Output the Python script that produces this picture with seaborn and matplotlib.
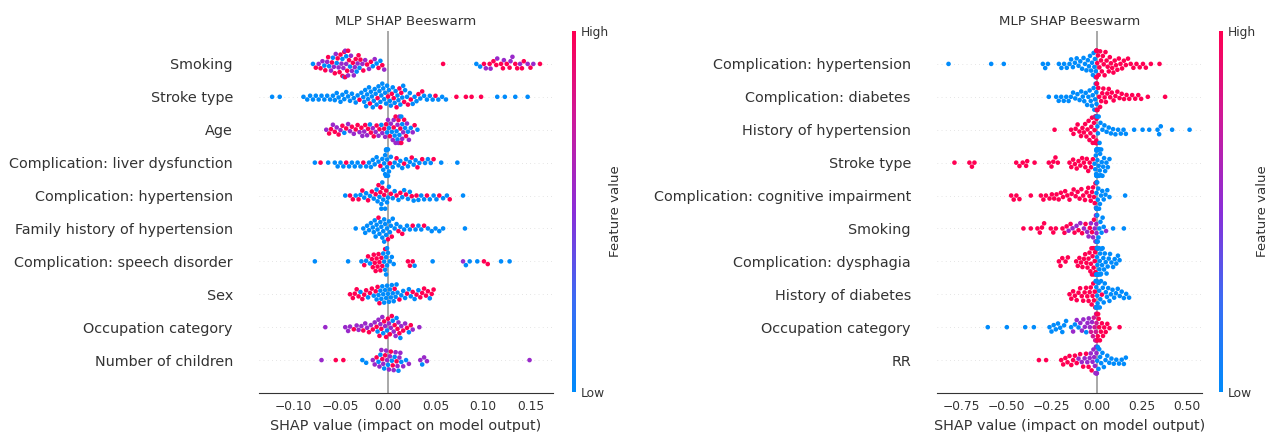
import warnings
warnings.filterwarnings("ignore")
import numpy as np
import pandas as pd
import matplotlib
matplotlib.use("Agg")
import matplotlib.pyplot as plt
import seaborn as sns
from matplotlib.colors import LinearSegmentedColormap, Normalize
from matplotlib.cm import ScalarMappable

# ---------------- data (SHAP values in thousandths; feature value digits 0=low .. 9=high) ----------------
LEFT_FEATURES = ["Smoking", "Stroke type", "Age", "Complication: liver dysfunction",
                 "Complication: hypertension", "Family history of hypertension",
                 "Complication: speech disorder", "Sex", "Occupation category", "Number of children"]

L_SMOKING = [-79, -76, -73, -71, -69, -67, -66, -64, -63, -62,
             -60, -59, -58, -57, -56, -55, -54, -53, -52, -51,
             -50, -49, -48, -48, -47, -46, -46, -45, -45, -44,
             -44, -43, -42, -42, -41, -40, -39, -38, -37, -36,
             -35, -34, -33, -32, -31, -30, -29, -27, -26, -24,
             -22, -20, -18, -16, -14, -12, -10, -8, -6, -4,
             58,
             93, 97, 101, 103, 107, 108, 111, 114, 115, 119,
             121, 122, 125, 128, 129, 131, 134, 136, 139, 141,
             143, 147, 150, 153, 160]
L_SMOKING_FV = ("0959509590" "5905950959" "9509590595" "0959905595" "5905909595" "9590509095"
                "9" "0095959959" "9599559959" "95959")

L_STROKE = [-122, -114, -89, -85, -82, -79, -76, -73, -70, -67,
            -64, -61, -58, -56, -54, -52, -50, -48, -46, -44,
            -42, -40, -38, -36, -34, -32, -30, -28, -26, -25,
            -24, -23, -22, -21, -20, -19, -18, -17, -16, -15,
            -14, -13, -12, -11, -10, -9, -8, -8, -7, -6,
            -5, -4, -3, -2, -1, 0, 1, 2, 3, 4,
            5, 6, 7, 8, 9, 10, 11, 12, 13, 14,
            15, 16, 17, 18, 20, 21, 23, 24, 26, 28,
            30, 32, 34, 36, 38, 41, 44, 47, 50, 53,
            57, 61, 72, 82, 88, 98, 115, 123, 134, 147]
L_STROKE_FV = ("0000000000" "0000000000" "0000009000" "0000090000" "0009000900"
               "0000090009" "0900900909" "0090090900" "0909000090" "0099990000")

L_AGE = [-65, -62, -60, -58, -56, -54, -52, -50, -48, -46,
         -44, -42, -40, -38, -36, -34, -32, -30, -28, -27,
         -25, -24, -22, -21, -19, -18, -16, -15, -13, -12,
         -10, -9, -7, -6, -4, -3, -2, -1, 0, 1,
         2, 3, 4, 5, 6, 6, 7, 8, 8, 9,
         10, 10, 11, 11, 12, 12, 13, 13, 14, 14,
         15, 15, 16, 17, 18, 19, 20, 21, 22, 24,
         26, 28, 31]
L_AGE_FV = ("5995959590" "9559599595" "5959095959" "5905959050" "9505950590"
            "5095059509" "0559095050" "590")

L_LIVER = [-77, -71, -63, -56, -53, -50, -47, -44, -41, -38,
           -35, -32, -29, -26, -23, -20, -18, -16, -14, -12,
           -10, -8, -6, -5, -4, -3, -3, -2, -2, -2,
           -2, -1, -1, -1, 0, 0, 1, 2, 3, 5,
           7, 9, 11, 13, 15, 17, 19, 21, 23, 25,
           27, 29, 31, 33, 36, 39, 42, 45, 48, 56,
           73]
L_LIVER_FV = ("0900000900" "0009000000" "0900000000" "0000000900" "0900090009"
              "0090900090" "0")

L_HYPER = [-45, -40, -37, -34, -31, -29, -27, -25, -23, -21,
           -19, -17, -15, -13, -12, -11, -10, -9, -8, -7,
           -7, -6, -6, -5, -4, -3, -2, -1, 0, 1,
           3, 5, 7, 9, 11, 13, 15, 17, 19, 21,
           23, 25, 27, 30, 32, 35, 38, 41, 44, 48,
           51, 54, 58, 62, 65, 79]
L_HYPER_FV = ("0990909009" "0909009090" "0900909000" "9009090090" "0909000900" "090090")

L_FAMILY = [-34, -26, -24, -22, -20, -18, -16, -15, -14, -13,
            -12, -11, -10, -9, -8, -7, -6, -5, -4, -4,
            -3, -2, -1, 0, 1, 2, 3, 4, 5, 7,
            9, 11, 13, 15, 17, 20, 23, 26, 29, 32,
            35, 38, 42, 46, 50, 54, 58, 81]
L_FAMILY_FV = ("0000000000" "0090000000" "0009000900" "0909000900" "09000000")

L_SPEECH = [-77, -42, -28, -25, -23, -21, -19, -17, -16, -15,
            -14, -13, -12, -11, -10, -9, -8, -7, -6, -5,
            -4, -3, -3, -2, -2, -1, -1, 0, 2, 4,
            6, 21, 23, 26, 28, 47, 79, 82, 86, 94,
            101, 105, 119, 128]
L_SPEECH_FV = ("0009090999" "9999999990" "0090000000" "0999005000" "9900")

L_SEX = [-40, -37, -35, -33, -31, -29, -27, -25, -23, -21,
         -19, -17, -15, -13, -12, -11, -10, -9, -8, -7,
         -6, -5, -4, -3, -2, -1, 0, 1, 2, 3,
         4, 5, 6, 7, 8, 9, 10, 12, 14, 16,
         18, 20, 22, 24, 26, 28, 30, 32, 34, 36,
         38, 40, 42, 44, 46, 48]
L_SEX_FV = ("9999909990" "9909090900" "0000000000" "0009000900" "0900909099" "999099")

L_OCCUP = [-66, -45, -42, -40, -36, -33, -31, -28, -26, -24,
           -22, -20, -18, -16, -14, -12, -11, -10, -9, -8,
           -7, -6, -5, -4, -3, -2, -1, 0, 1, 2,
           3, 4, 5, 6, 7, 8, 9, 10, 11, 12,
           13, 14, 16, 18, 20, 22, 24, 26, 33]
L_OCCUP_FV = ("5555955595" "5959590595" "9509590959" "5905950959" "059590955")

L_CHILD = [-70, -55, -47, -27, -23, -16, -14, -12, -10, -9,
           -8, -7, -6, -5, -4, -3, -2, -1, 0, 1,
           2, 3, 4, 5, 6, 7, 8, 9, 10, 11,
           12, 13, 14, 16, 19, 22, 34, 36, 38, 41,
           149]
L_CHILD_FV = ("5990055905" "0595095505" "5909505950" "5505055055" "5")

RIGHT_FEATURES = ["Complication: hypertension", "Complication: diabetes", "History of hypertension",
                  "Stroke type", "Complication: cognitive impairment", "Smoking",
                  "Complication: dysphagia", "History of diabetes", "Occupation category", "RR"]

R_HYPER = [-822, -585, -515, -298, -285, -270, -209, -195, -180, -165,
           -150, -141, -131, -120, -110, -100, -90, -80, -72, -64,
           -56, -48, -42, -36, -30, -25, -20, -16, -12, -9,
           -6, -4, -2, -1, 0, 0, 0, 1, 2, 4,
           8, 12, 16, 20, 25, 30, 35, 40, 45, 50,
           56, 62, 68, 74, 80, 87, 94, 101, 108, 116,
           124, 133, 142, 152, 163, 175, 190, 205, 222, 240,
           258, 274, 302, 350]
R_HYPER_FV = ("0000000000" "0000000000" "0000000000" "0009999999"
              "9999999999" "9999999999" "9999999999" "9999")

R_DIAB = [-265, -224, -210, -196, -182, -168, -155, -142, -130, -118,
          -106, -94, -85, -76, -68, -60, -52, -45, -38, -32,
          -26, -21, -16, -12, -8, -5, -3, -1, 0, 0,
          1, 3, 6, 10, 15, 20, 26, 32, 38, 45,
          52, 60, 68, 76, 85, 95, 105, 116, 128, 140,
          153, 167, 182, 198, 215, 232, 248, 285, 381]
R_DIAB_FV = ("0000000000" "0000000000" "0000000009" "9999999999" "9999999999" "999999999")

R_HISTHYP = [-233, -141, -128, -116, -105, -95, -86, -78, -70, -63,
             -56, -50, -44, -39, -34, -29, -25, -21, -17, -14,
             -11, -8, -6, -4, -3, -2, -1, 0, 0, 0,
             1, 2, 3, 5, 8, 12, 17, 22, 33, 44,
             56, 68, 80, 92, 105, 120, 135, 150, 163, 209,
             256, 293, 339, 348, 357, 420, 517]
R_HISTHYP_FV = ("9999999999" "9999999999" "9990999999" "9090000000" "0000000000" "0000000")

R_STROKE = [-789, -706, -692, -678, -446, -428, -410, -391, -385, -344,
            -265, -250, -240, -228, -215, -150, -140, -130, -120, -110,
            -100, -90, -80, -70, -62, -54, -46, -38, -30, -20,
            -11, -7, -4, -2, -1, 0, 0, 0, 1, 2,
            3, 4, 5, 6, 7, 8, 9, 10, 12, 14,
            16, 18, 20, 23, 26, 29, 33, 37, 42, 48,
            55, 63, 72]
R_STROKE_FV = ("9999999999" "9999999999" "9999999999" "0000000000" "0000000000" "0000000000" "000")

R_COGN = [-474, -460, -445, -428, -365, -309, -295, -281, -261, -248,
          -235, -222, -210, -198, -186, -174, -162, -150, -138, -127,
          -116, -105, -94, -84, -74, -64, -55, -46, -39, -32,
          -25, -19, -14, -10, -6, -3, -1, 0, 0, 0,
          1, 2, 4, 7, 10, 14, 19, 25, 32, 40,
          50, 60, 72, 159]
R_COGN_FV = ("9999999999" "9999999999" "9999999999" "9999909090" "0000000000" "0000")

R_SMOKING = [-406, -365, -328, -315, -303, -291, -254, -240, -226, -189,
             -178, -166, -155, -144, -133, -122, -111, -100, -90, -80,
             -70, -61, -52, -44, -37, -31, -25, -19, -14, -10,
             -6, -3, -1, 0, 0, 0, 1, 1, 2, 4,
             7, 11, 16, 22, 28, 34, 40, 53, 92, 152]
R_SMOKING_FV = ("9999999999" "9959595959" "5955959595" "5555555500" "0000000500")

R_DYSPH = [-209, -200, -190, -172, -159, -113, -104, -95, -86, -78,
           -70, -63, -56, -50, -44, -39, -34, -31, -28, -25,
           -22, -19, -16, -13, -10, -8, -6, -4, -2, -1,
           0, 0, 0, 1, 2, 3, 4, 5, 6, 7,
           8, 9, 10, 12, 14, 16, 18, 20, 22, 25,
           28, 31, 34, 38, 42, 46, 51, 56, 62, 68,
           75, 83, 92, 101, 110, 119, 128]
R_DYSPH_FV = ("9999999999" "9999999999" "9999999990" "9090000000"
              "0000000000" "0000000000" "0000000")

R_HISTDIAB = [-150, -140, -130, -120, -110, -100, -91, -82, -74, -66,
              -58, -51, -44, -38, -32, -27, -22, -18, -14, -10,
              -7, -5, -3, -1, 0, 0, 0, 1, 2, 4,
              6, 9, 12, 15, 18, 21, 25, 30, 35, 40,
              46, 52, 58, 65, 72, 80, 89, 98, 108, 118,
              129, 140, 152, 165, 181]
R_HISTDIAB_FV = ("9999999999" "9999999999" "9000000000" "0000000900" "0000000000" "00000")

R_OCCUP = [-604, -498, -396, -348, -261, -250, -238, -226, -214, -202,
           -190, -180, -169, -141, -130, -120, -110, -100, -90, -81,
           -73, -65, -57, -50, -43, -37, -31, -25, -20, -15,
           -11, -7, -4, -2, -1, 0, 0, 0, 1, 2,
           3, 5, 7, 9, 12, 15, 19, 24, 30, 36,
           43, 51, 60, 72, 128]
R_OCCUP_FV = ("0000000000" "0000505055" "5505557577" "7777777777" "9999999999" "99999")

R_RR = [-320, -280, -196, -185, -173, -161, -150, -140, -130, -120,
        -110, -100, -91, -82, -74, -66, -58, -51, -44, -38,
        -32, -27, -22, -17, -13, -9, -6, -3, -1, 0,
        0, 0, 1, 2, 4, 7, 11, 15, 20, 26,
        33, 41, 50, 60, 71, 83, 96, 110, 125, 140,
        152, 163]
R_RR_FV = ("9999999999" "9595959595" "5955555555" "5555000000" "0000000000" "00")

LEFT_SHAP = [L_SMOKING, L_STROKE, L_AGE, L_LIVER, L_HYPER, L_FAMILY, L_SPEECH, L_SEX, L_OCCUP, L_CHILD]
LEFT_FV = [L_SMOKING_FV, L_STROKE_FV, L_AGE_FV, L_LIVER_FV, L_HYPER_FV, L_FAMILY_FV,
           L_SPEECH_FV, L_SEX_FV, L_OCCUP_FV, L_CHILD_FV]
RIGHT_SHAP = [R_HYPER, R_DIAB, R_HISTHYP, R_STROKE, R_COGN, R_SMOKING, R_DYSPH, R_HISTDIAB, R_OCCUP, R_RR]
RIGHT_FV = [R_HYPER_FV, R_DIAB_FV, R_HISTHYP_FV, R_STROKE_FV, R_COGN_FV, R_SMOKING_FV,
            R_DYSPH_FV, R_HISTDIAB_FV, R_OCCUP_FV, R_RR_FV]

LEFT_TICKS = [-0.10, -0.05, 0.00, 0.05, 0.10, 0.15]
RIGHT_TICKS = [-0.75, -0.50, -0.25, 0.00, 0.25, 0.50]
TITLE = "MLP SHAP Beeswarm"
XLABEL = "SHAP value (impact on model output)"


def build_frame(features, shap_lists, fv_strings):
    rows = []
    for feat, vals, fvs in zip(features, shap_lists, fv_strings):
        if len(vals) != len(fvs):
            raise ValueError(f"{feat}: {len(vals)} values vs {len(fvs)} colours")
        for v, c in zip(vals, fvs):
            rows.append((feat, v / 1000.0, int(c) / 9.0))
    return pd.DataFrame(rows, columns=["feature", "shap", "fv"])


df_left = build_frame(LEFT_FEATURES, LEFT_SHAP, LEFT_FV)
df_right = build_frame(RIGHT_FEATURES, RIGHT_SHAP, RIGHT_FV)

# ---------------- style ----------------
sns.set_theme(style="white")
plt.rcParams["font.family"] = ["DejaVu Sans"]
AX_COLOR = "#333333"
cmap = LinearSegmentedColormap.from_list(
    "shap_red_blue", ["#008bfb", "#3a6cf4", "#8a2ed8", "#cb1a9c", "#ff0052"])

W, H = 1269, 432
fig = plt.figure(figsize=(W / 100, H / 100), dpi=100)


def panel(df, features, ax_box, cb_box, xlim, ticks):
    ax = fig.add_axes(ax_box)
    sns.swarmplot(data=df, x="shap", y="feature", hue="fv", order=features,
                  palette=cmap, hue_norm=(0, 1), size=3.3, linewidth=0,
                  orient="h", legend=False, ax=ax, zorder=3)
    n = len(features)
    for i in range(n):
        ax.axhline(i, color="#cccccc", lw=0.5, dashes=(1, 5), zorder=-1)
    ax.axvline(0, color="#999999", lw=1.2, zorder=-1)
    ax.set_ylim(n, -1)
    ax.set_xlim(*xlim)
    ax.set_xticks(ticks)
    ax.set_ylabel("")
    ax.set_xlabel(XLABEL, fontsize=10.4, color=AX_COLOR)
    ax.set_title(TITLE, fontsize=9.6, color=AX_COLOR, pad=4)
    for s in ("top", "right", "left"):
        ax.spines[s].set_visible(False)
    ax.spines["bottom"].set_color(AX_COLOR)
    ax.spines["bottom"].set_linewidth(0.8)
    ax.tick_params(axis="y", length=0, pad=18.8, labelsize=10.4, labelcolor=AX_COLOR)
    ax.tick_params(axis="x", length=2.8, width=0.6, color=AX_COLOR, labelsize=8.8,
                   labelcolor=AX_COLOR, pad=2.5)
    ax.grid(False)
    ax.set_facecolor("white")

    cax = fig.add_axes(cb_box)
    cb = fig.colorbar(ScalarMappable(norm=Normalize(0, 1), cmap=cmap), cax=cax, ticks=[0, 1])
    cb.set_ticklabels(["Low", "High"])
    cb.set_label("Feature value", size=9.6, labelpad=0, color=AX_COLOR)
    cb.ax.tick_params(labelsize=8.8, length=0, labelcolor=AX_COLOR, pad=3.5)
    cb.outline.set_visible(False)
    return ax


bottom = 1 - 393 / H
height = 362 / H
panel(df_left, LEFT_FEATURES, [259 / W, bottom, 294 / W, height],
      [571.7 / W, 1 - 392 / H, 4 / W, 361 / H], (-0.1358, 0.1737), LEFT_TICKS)
panel(df_right, RIGHT_FEATURES, [937 / W, bottom, 265 / W, height],
      [1219.3 / W, 1 - 392 / H, 4 / W, 361 / H], (-0.886, 0.586), RIGHT_TICKS)

fig.savefig("out.png", dpi=100, facecolor="white")
